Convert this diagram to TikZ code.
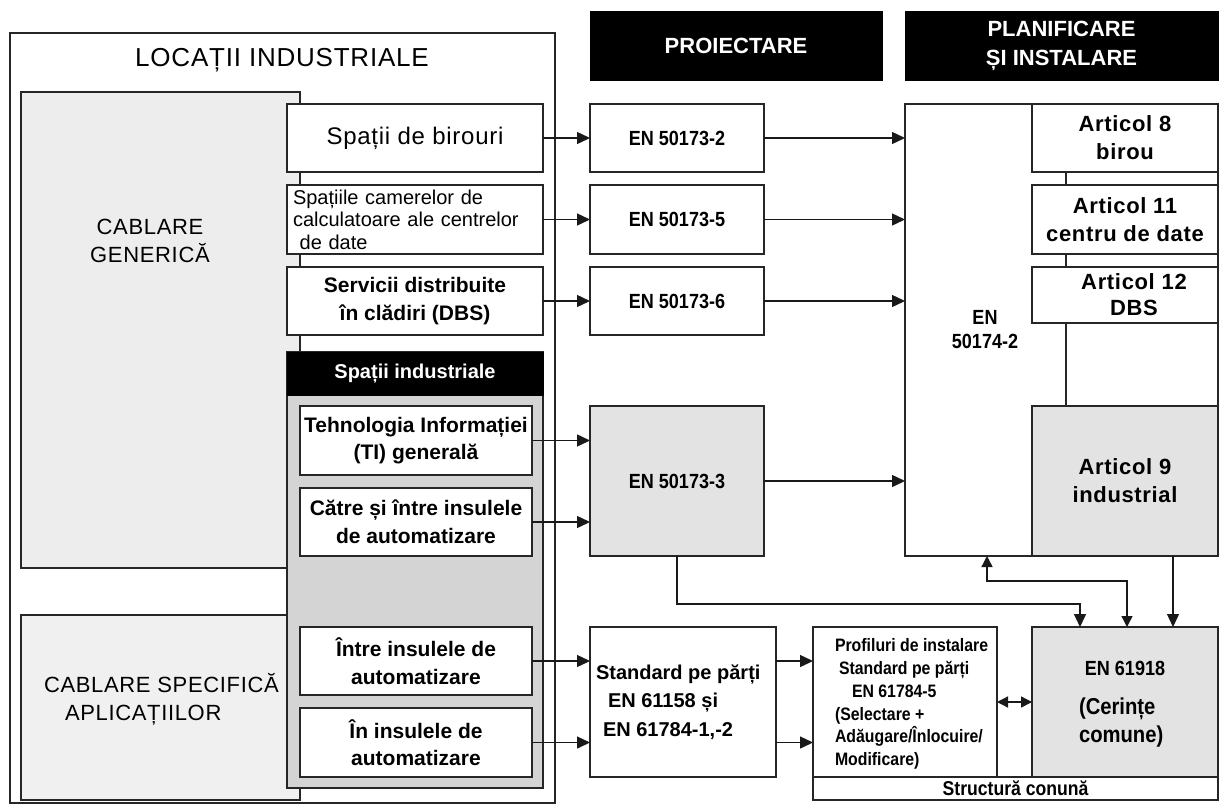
\documentclass[tikz,border=0pt]{standalone}
\usepackage{fontspec}
\setmainfont{Liberation Sans}
\newfontfamily\spacedfont[LetterSpace=3]{Liberation Sans}
\newfontfamily\narrowfont[FakeStretch=0.88]{Liberation Sans}
\newfontfamily\artfontfam[LetterSpace=3]{Liberation Sans}
\usetikzlibrary{arrows.meta}
\tikzset{
  box/.style={draw=black!85, line width=1.3pt, fill=white, inner sep=0pt, outer sep=0pt, anchor=north west, align=center},
  hdr/.style={fill=black, draw=black, inner sep=0pt, outer sep=0pt, anchor=north west, text=white, align=center, font=\bfseries\fontsize{22}{29}\selectfont},
  lbl/.style={inner sep=0pt, outer sep=0pt, align=center},
  arr/.style={line width=1.4pt, draw=black!90, -{Triangle[length=13pt,width=12pt]}},
  darr/.style={line width=1.4pt, draw=black!90, {Triangle[length=11pt,width=11pt]}-{Triangle[length=11pt,width=11pt]}},
  conn/.style={line width=1.3pt, draw=black!85},
  bold21/.style={font=\bfseries\fontsize{21}{27.5}\selectfont},
  enfont/.style={font=\narrowfont\bfseries\fontsize{20.5}{24}\selectfont},
  artfont/.style={font=\artfontfam\bfseries\fontsize{22}{28}\selectfont},
}
\begin{document}
\begin{tikzpicture}[x=1pt,y=-1pt]
\useasboundingbox (0,0) rectangle (1222,806);
\fill[white] (0,0) rectangle (1222,806);

% ---------- left: LOCATII INDUSTRIALE ----------
\node[box, minimum width=545, minimum height=770] (outer) at (10,33) {};
\node[lbl, font=\spacedfont\fontsize{26}{30}\selectfont] (title) at (282,60) {LOCAȚII INDUSTRIALE};

\node[box, fill=black!7, minimum width=279, minimum height=476] (gen) at (21,92) {};
\node[lbl, font=\spacedfont\fontsize{22}{28}\selectfont] (genlbl) at (150,241) {CABLARE\\GENERICĂ};

\node[box, fill=black!6, minimum width=279, minimum height=185] (spec) at (21,615) {};
\node[lbl, anchor=west, align=left, font=\spacedfont\fontsize{22}{28}\selectfont] (speclbl) at (44,699) {CABLARE SPECIFICĂ\\\hspace*{21pt}APLICAȚIILOR};

\node[box, minimum width=256, minimum height=68, font=\spacedfont\fontsize{24}{28}\selectfont] (birouri) at (287,104) {Spații de birouri};
\node[box, minimum width=256, minimum height=69, text width=244, align=left, font=\fontsize{20}{22.5}\selectfont] (camere) at (287,185) {Spațiile camerelor de\\calculatoare ale centrelor\\\ de date};
\node[box, minimum width=256, minimum height=68, bold21] (servicii) at (287,267) {Servicii distribuite\\în clădiri (DBS)};

\node[box, fill=black!17, minimum width=256, minimum height=436] (indpanel) at (287,352) {};
\node[hdr, minimum width=256, minimum height=43, font=\bfseries\fontsize{20}{24}\selectfont] (indhdr) at (287,352) {Spații industriale};

\node[box, minimum width=232, minimum height=69, bold21] (tehno) at (300,406) {Tehnologia Informației\\(TI) generală};
\node[box, minimum width=232, minimum height=68, bold21] (catre) at (300,488) {Către și între insulele\\de automatizare};
\node[box, minimum width=232, minimum height=68, bold21] (intre) at (300,627) {Între insulele de\\automatizare};
\node[box, minimum width=232, minimum height=69, bold21] (inins) at (300,708) {În insulele de\\automatizare};

% ---------- middle: PROIECTARE ----------
\node[hdr, minimum width=292, minimum height=69] (proi) at (590,11) {PROIECTARE};
\node[box, minimum width=174, minimum height=68, enfont] (en2) at (590,104) {EN 50173-2};
\node[box, minimum width=174, minimum height=69, enfont] (en5) at (590,185) {EN 50173-5};
\node[box, minimum width=174, minimum height=68, enfont] (en6) at (590,267) {EN 50173-6};
\node[box, fill=black!11, minimum width=174, minimum height=150, enfont] (en3) at (590,406) {EN 50173-3};

\node[box, minimum width=186, minimum height=150] (std) at (590,627) {};
\node[lbl, anchor=west, align=left, font=\bfseries\fontsize{20}{28.5}\selectfont] (stdlbl) at (596,702) {Standard pe părți\\\hspace*{12pt}EN 61158 și\\\hspace*{7pt}EN 61784-1,-2};

\node[box, minimum width=184, minimum height=150] (prof) at (813,627) {};
\node[lbl, anchor=west, align=left, font=\narrowfont\bfseries\fontsize{18}{22.8}\selectfont] (proflbl) at (835,704) {Profiluri de instalare\\\hspace*{4pt}Standard pe părți\\\hspace*{17pt}EN 61784-5\\(Selectare +\\Adăugare/Înlocuire/\\Modificare)};

\node[box, minimum width=405, minimum height=23, font=\narrowfont\bfseries\fontsize{20}{24}\selectfont] (struct) at (813,777) {Structură conună};

% ---------- right: PLANIFICARE SI INSTALARE ----------
\node[hdr, minimum width=313, minimum height=69] (plani) at (905,11) {PLANIFICARE\\ȘI INSTALARE};
\node[box, minimum width=313, minimum height=452] (plan) at (905,104) {};
\node[lbl, enfont] (planlbl) at (985,330) {EN\\50174-2};

\node[box, minimum width=186, minimum height=68, artfont] (art8) at (1032,104) {Articol 8\\birou};
\node[box, minimum width=186, minimum height=69, artfont] (art11) at (1032,185) {Articol 11\\centru de date};
\node[box, minimum width=186, minimum height=56, font=\artfontfam\bfseries\fontsize{22}{26}\selectfont] (art12) at (1032,267) {\hspace*{18pt}Articol 12\\\hspace*{18pt}DBS};
\node[box, fill=black!11, minimum width=186, minimum height=150, artfont] (art9) at (1032,406) {Articol 9\\industrial};

\node[box, fill=black!11, minimum width=186, minimum height=150] (en61) at (1032,627) {};
\node[lbl, enfont] (en61lbl) at (1125,668) {EN 61918};
\node[lbl, anchor=west, align=left, font=\narrowfont\bfseries\fontsize{23}{28}\selectfont] (cerlbl) at (1079,723) {(Cerințe\\comune)};

% ---------- connectors ----------
\draw[conn] ([xshift=34pt]art8.south west) -- ([xshift=34pt]art11.north west);
\draw[conn] ([xshift=34pt]art11.south west) -- ([xshift=34pt]art12.north west);
\draw[conn] ([xshift=34pt]art12.south west) -- ([xshift=34pt]art9.north west);

\draw[arr] (birouri.east) -- (en2.west);
\draw[arr] (camere.east) -- (en5.west);
\draw[arr] (servicii.east) -- (en6.west);
\draw[arr] (en2.east) -- (en2.east -| plan.west);
\draw[arr] (en5.east) -- (en5.east -| plan.west);
\draw[arr] (en6.east) -- (en6.east -| plan.west);

\draw[arr] (tehno.east) -- (tehno.east -| en3.west);
\draw[arr] (catre.east) -- (catre.east -| en3.west);
\draw[arr] (en3.east) -- (en3.east -| plan.west);

\draw[arr] (intre.east) -- (intre.east -| std.west);
\draw[arr] (inins.east) -- (inins.east -| std.west);
\draw[arr] (intre.east -| std.east) -- (intre.east -| prof.west);
\draw[arr] (inins.east -| std.east) -- (inins.east -| prof.west);
\draw[darr] (prof.east) -- (prof.east -| en61.west);

\draw[arr] (en3.south) -- ++(0,48) -| ([xshift=48pt]en61.north west);
\draw[darr] ([xshift=82pt]plan.south west) -- ++(0,25) -| ([xshift=95pt]en61.north west);
\draw[arr] ([xshift=141pt]art9.south west) -- ([xshift=141pt]en61.north west);
\end{tikzpicture}
\end{document}
